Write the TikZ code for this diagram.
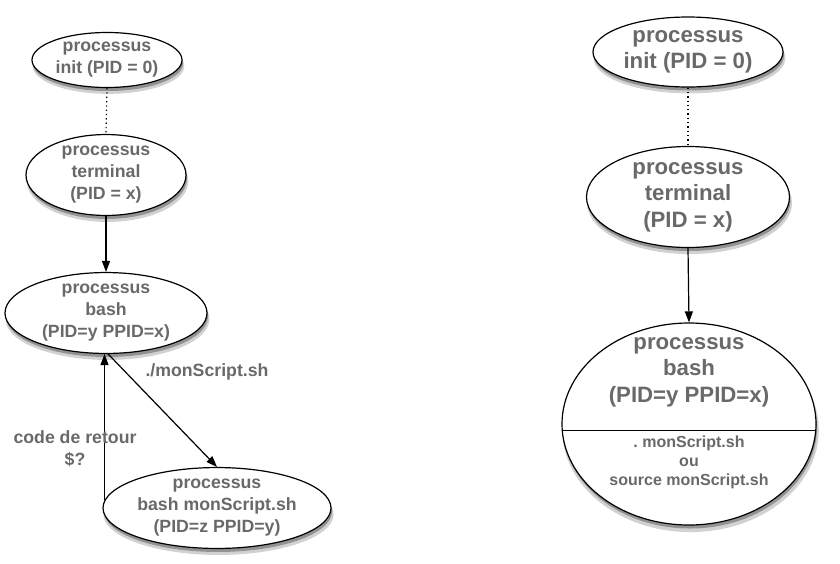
\documentclass[tikz,border=0pt]{standalone}
\usepackage{fontspec}
\setmainfont{Liberation Sans}
\usetikzlibrary{shapes.geometric,arrows.meta,shadows,calc}
\definecolor{txtgray}{RGB}{105,105,105}
\tikzset{
  proc/.style={ellipse, draw=black, line width=1.2pt, fill=white, inner sep=0pt,
    align=center, text=txtgray,
    drop shadow={shadow xshift=1.5pt, shadow yshift=-6pt, shadow scale=1.01, opacity=0.18, fill=black},
    drop shadow={shadow xshift=1pt, shadow yshift=-3.5pt, opacity=0.3, fill=black}},
  smallfont/.style={font=\bfseries\fontsize{17.7}{22}\selectfont},
  bigfont/.style={font=\bfseries\fontsize{22.2}{26.5}\selectfont},
  lbl/.style={text=txtgray, align=center, inner sep=0pt},
  arr/.style={line width=1.2pt, -{Triangle[length=11pt,width=8pt]}},
  dotline/.style={line width=1.2pt, dash pattern=on 1.3pt off 3pt}
}
\frenchspacing
\begin{document}
\begin{tikzpicture}[x=1pt,y=-1pt]
\useasboundingbox (0,0) rectangle (840,563);
% left diagram
\node[proc, smallfont, minimum width=150pt, minimum height=55pt] (linit) at (107,60) {processus\\init (PID = 0)};
\node[proc, smallfont, minimum width=160pt, minimum height=77pt] (lterm) at (106,175) {processus\\terminal\\(PID = x)};
\node[proc, smallfont, minimum width=202pt, minimum height=72pt] (lbash) at (106,313) {processus\\bash\\(PID=y PPID=x)};
\node[proc, smallfont, minimum width=228pt, minimum height=80pt] (lscript) at (217,508) {processus\\bash monScript.sh\\(PID=z PPID=y)};
\draw[dotline] (linit.south) -- (lterm.north);
\draw[arr] (lterm.south) -- (lbash.north);
\draw[arr] (lbash.-87) -- (lscript.north);
\draw[arr] (lscript.176) -- (lscript.176 |- lbash.south);
\node[lbl, smallfont] (lcall) at (207,372) {./monScript.sh};
\node[lbl, smallfont] (lret) at (75,449) {code de retour\\\$?};
% right diagram
\node[proc, bigfont, minimum width=190pt, minimum height=70pt] (rinit) at (688,52) {processus\\init (PID = 0)};
\node[proc, bigfont, minimum width=203pt, minimum height=101pt] (rterm) at (688,197) {processus\\terminal\\(PID = x)};
\node[proc, minimum width=254pt, minimum height=202pt] (rbash) at (689,424) {};
\draw[dotline] (rinit.south) -- (rterm.north);
\draw[arr] (rterm.south) -- (rbash.north);
\draw[line width=1.2pt] (rbash.183.2) -- (rbash.-3.2);
\node[lbl, bigfont] (rbtop) at (689,372) {processus\\bash\\(PID=y PPID=x)};
\node[lbl, font=\bfseries\fontsize{16}{19}\selectfont] (rbbot) at (689,462) {. monScript.sh\\ou\\source monScript.sh};
\end{tikzpicture}
\end{document}
